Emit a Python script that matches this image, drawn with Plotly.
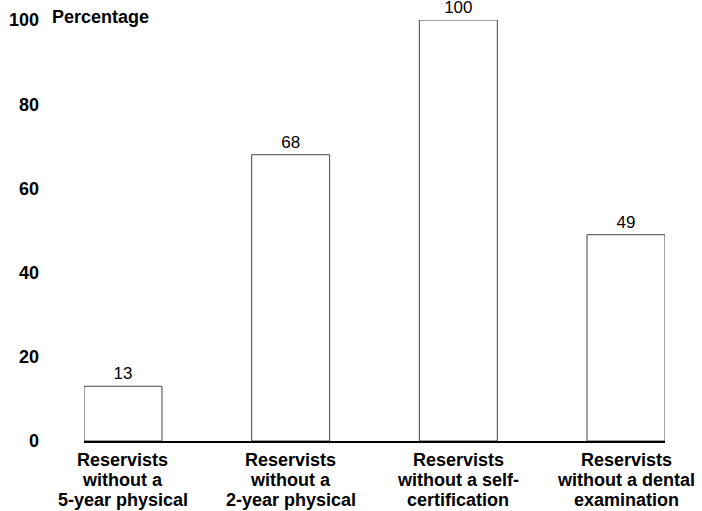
import plotly.graph_objects as go

category_lines = [
    ["Reservists", "without a", "5-year physical"],
    ["Reservists", "without a", "2-year physical"],
    ["Reservists", "without a self-", "certification"],
    ["Reservists", "without a dental", "examination"],
]
values = [13, 68, 100, 49]
y_ticks = [0, 20, 40, 60, 80, 100]
y_tick_labels = ["0", "20", "40", "60", "80", "100"]

positions = list(range(len(category_lines)))
FONT = "Liberation Sans, Arial, Helvetica, sans-serif"

fig = go.Figure(
    go.Bar(
        x=positions,
        y=values,
        width=0.465,
        marker=dict(color="white", line=dict(color="#444444", width=1)),
        text=[str(v) for v in values],
        textposition="outside",
        constraintext="none",
        textfont=dict(family=FONT, size=17, color="black"),
        cliponaxis=False,
        hoverinfo="skip",
    )
)

annotations = [
    dict(
        text="<b>Percentage</b>",
        xref="paper",
        yref="paper",
        x=-0.0585,
        y=1.0,
        xanchor="left",
        yanchor="bottom",
        yshift=-9,
        showarrow=False,
        font=dict(family=FONT, size=18, color="black"),
    )
]
line_offsets = [-19, -39, -59]
for pos, lines in zip(positions, category_lines):
    for line, off in zip(lines, line_offsets):
        annotations.append(
            dict(
                text="<b>" + line + "</b>",
                xref="x",
                yref="paper",
                x=pos,
                y=0,
                xanchor="center",
                yanchor="middle",
                yshift=off,
                showarrow=False,
                font=dict(family=FONT, size=18, color="black"),
            )
        )

fig.update_layout(
    width=702,
    height=511,
    margin=dict(l=84, r=37, t=20, b=70),
    paper_bgcolor="white",
    plot_bgcolor="white",
    showlegend=False,
    font=dict(family=FONT, color="black"),
    xaxis=dict(
        range=[-0.2325, 3.2325],
        showticklabels=False,
        showline=True,
        linecolor="black",
        linewidth=2,
        showgrid=False,
        zeroline=False,
        ticks="",
        automargin=False,
    ),
    yaxis=dict(
        range=[0, 100],
        tickmode="array",
        tickvals=y_ticks,
        ticktext=["<b>" + t + "</b>" for t in y_tick_labels],
        tickfont=dict(family=FONT, size=18, color="black"),
        showline=False,
        showgrid=False,
        zeroline=False,
        ticks="",
        ticklabelstandoff=44,
        automargin=False,
    ),
    annotations=annotations,
)

fig.write_html(
    "out.html",
    config={"displayModeBar": False},
    post_script="document.body.style.margin='0';document.body.style.overflow='hidden';",
)
